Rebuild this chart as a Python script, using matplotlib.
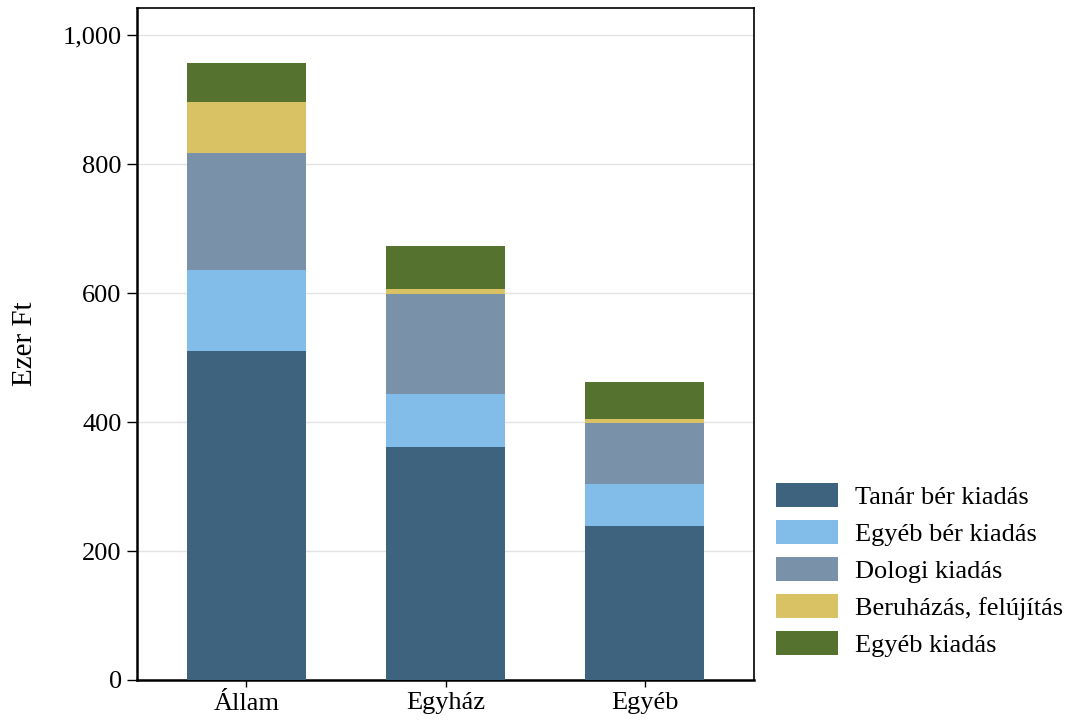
import matplotlib
matplotlib.use("Agg")
import matplotlib.pyplot as plt
from matplotlib.patches import Patch
from matplotlib.ticker import FuncFormatter

plt.rcParams['font.family'] = ['Liberation Serif', 'DejaVu Serif']

categories = ["Állam", "Egyház", "Egyéb"]
series_names = ["Tanár bér kiadás", "Egyéb bér kiadás", "Dologi kiadás",
                "Beruházás, felújítás", "Egyéb kiadás"]
tanar_ber = [510, 361, 239]
egyeb_ber = [126, 82, 65]
dologi = [181, 155, 94]
beruhazas = [79, 8, 7]
egyeb_kiadas = [61, 67, 57]
colors = ["#3e637e", "#82bde9", "#7a91aa", "#d9c264", "#55732f"]
yticks = [0, 200, 400, 600, 800, 1000]

series = [tanar_ber, egyeb_ber, dologi, beruhazas, egyeb_kiadas]

fig = plt.figure(figsize=(10.70, 7.22), dpi=100)
ax = fig.add_axes([137/1070, 1 - 680/722, (754-137)/1070, (680-8)/722])

x = list(range(len(categories)))
bottom = [0]*len(categories)
for vals, c, name in zip(series, colors, series_names):
    ax.bar(x, vals, width=0.6, bottom=bottom, color=c, label=name, zorder=3)
    bottom = [b + v for b, v in zip(bottom, vals)]

ax.set_xlim(-0.55, 2.55)
ax.set_ylim(0, 1042)
ax.set_yticks(yticks)
ax.yaxis.set_major_formatter(FuncFormatter(lambda v, p: f"{int(v):,}"))
ax.set_xticks(x)
ax.set_xticklabels(categories)
ax.tick_params(axis='both', labelsize=19, colors='black', direction='out')
ax.tick_params(axis='y', length=7, width=1, pad=4)
ax.tick_params(axis='x', length=5, width=1, pad=4)
ax.grid(axis='y', color='#e3e3e3', linewidth=1, zorder=0)
ax.set_axisbelow(True)
for s in ax.spines.values():
    s.set_linewidth(1.2)
    s.set_color('black')
ax.spines['left'].set_linewidth(1.8)
ax.spines['bottom'].set_linewidth(1.8)
ax.set_ylabel("Ezer Ft", fontsize=21, labelpad=18)

handles = [Patch(facecolor=c, label=n) for c, n in zip(colors, series_names)]
fig.legend(handles=handles, loc='lower left', bbox_to_anchor=(776/1070, 1 - 657/722),
           frameon=False, fontsize=19, handlelength=2.35, handleheight=1.02,
           labelspacing=0.42, handletextpad=0.64, borderaxespad=0, borderpad=0)

fig.savefig("out.png", dpi=100)
